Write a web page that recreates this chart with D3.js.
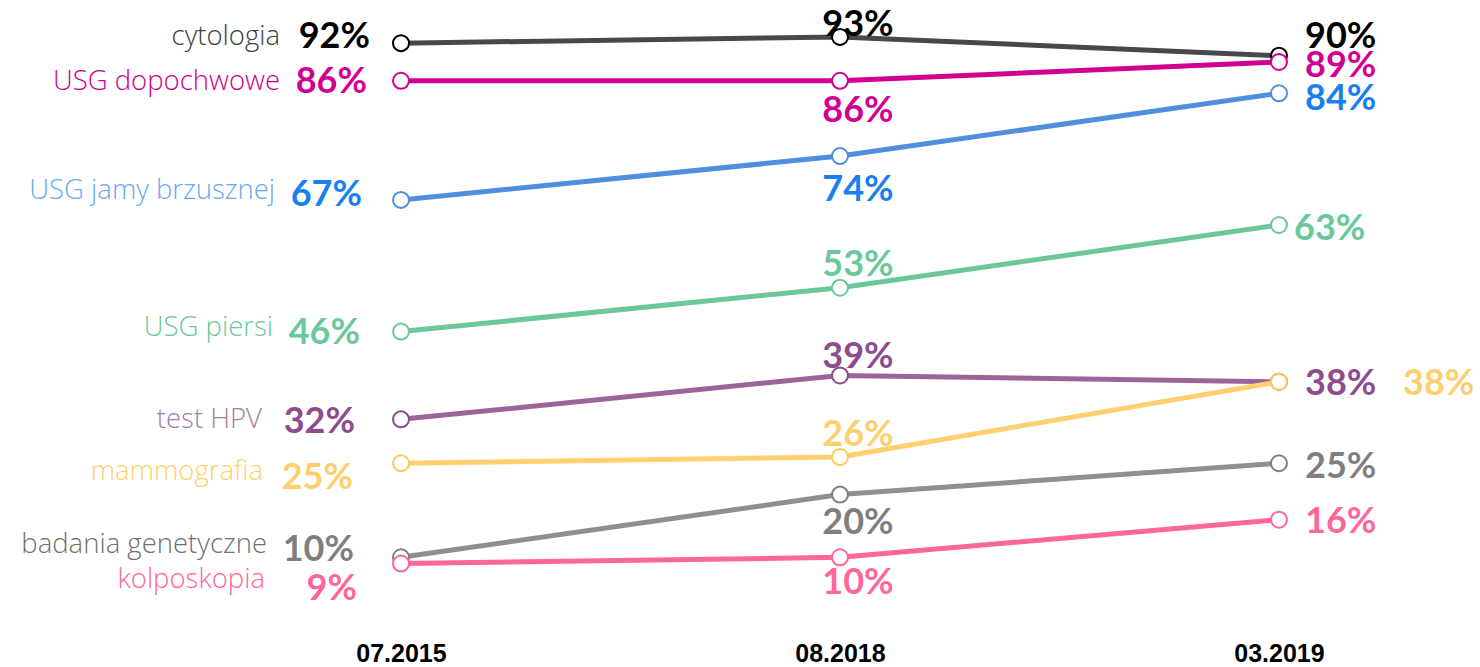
<!DOCTYPE html>
<html>
<head>
<meta charset="utf-8">
<script src="https://cdn.jsdelivr.net/npm/d3@7"></script>
<style>
  body { margin: 0; background: #fff; }
  .name { font-family: "Open Sans", sans-serif; font-weight: 300; font-size: 27.5px; }
  .val { font-family: Lato, sans-serif; font-weight: 700; font-size: 36px; }
  .tick { font-family: "Liberation Sans", Arial, sans-serif; font-weight: 700; font-size: 25px; }
</style>
</head>
<body>
<svg id="chart"></svg>
<script>
// data
const periods = ["07.2015", "08.2018", "03.2019"];
const categories = ["cytologia", "USG dopochwowe", "USG jamy brzusznej", "USG piersi",
  "test HPV", "mammografia", "badania genetyczne", "kolposkopia"];
const cytologia = [92, 93, 90];
const usgDopochwowe = [86, 86, 89];
const usgJamy = [67, 74, 84];
const usgPiersi = [46, 53, 63];
const testHpv = [32, 39, 38];
const mammografia = [25, 26, 38];
const genetyczne = [10, 20, 25];
const kolposkopia = [9, 10, 16];
const seriesValues = [cytologia, usgDopochwowe, usgJamy, usgPiersi, testHpv, mammografia, genetyczne, kolposkopia];

// colours: line, circle stroke, name text, value text
const styles = [
  { line: "#48484c", dot: "#000000", name: "#404040", val: "#000000" },
  { line: "#d20091", dot: "#d20091", name: "#d20091", val: "#d20091" },
  { line: "#4f8fdc", dot: "#4f8fdc", name: "#69a9f2", val: "#1a7ff0" },
  { line: "#6cc79a", dot: "#6cc79a", name: "#6cc79a", val: "#6cc79a" },
  { line: "#9b6599", dot: "#8e4b8e", name: "#a77aa7", val: "#8e4b8e" },
  { line: "#ffd070", dot: "#ffc95a", name: "#ffcf6e", val: "#ffcf6e" },
  { line: "#8f8f8f", dot: "#7f7f7f", name: "#707070", val: "#7f7f7f" },
  { line: "#ff6699", dot: "#ff6699", name: "#ff6699", val: "#ff6699" }
];

// label placement: name [xEnd, dy], value labels per period [x / dx, dy]
const labelLayout = [
  { name: [280, 2],  vals: [[370, 5], [0, -1], [26, -8]] },
  { name: [280, 9],  vals: [[367, 12], [0, 41], [26, 15]] },
  { name: [275, -1], vals: [[362, 6], [0, 45], [26, 17]] },
  { name: [273, 4],  vals: [[360, 12], [0, -12], [15, 15]] },
  { name: [262, 9],  vals: [[355, 14], [0, -7], [26, 13]] },
  { name: [263, 17], vals: [[353, 26], [0, -11], [124, 13]] },
  { name: [267, -4], vals: [[354, 4], [0, 39], [26, 15]] },
  { name: [265, 24], vals: [[357, 36], [0, 37], [26, 13]] }
];

const width = 1480;
const height = 667;

const x = d3.scalePoint().domain(periods).range([401, 1279]);
const y = d3.scaleLinear().domain([0, 100]).range([620, -7]);

const svg = d3.select("#chart").attr("width", width).attr("height", height);

// x axis labels only
const xAxis = d3.axisBottom(x).tickSize(0).tickPadding(0);
const axisG = svg.append("g").attr("transform", "translate(0, 644)").call(xAxis);
axisG.select(".domain").remove();
axisG.selectAll("text")
  .attr("class", "tick")
  .attr("dy", "0.71em")
  .attr("fill", "#000")
  .attr("font-size", null)
  .attr("font-family", null);

const line = d3.line()
  .x((d, i) => x(periods[i]))
  .y(d => y(d));

categories.forEach((cat, s) => {
  const vals = seriesValues[s];
  const st = styles[s];
  const g = svg.append("g");

  g.append("path")
    .datum(vals)
    .attr("d", line)
    .attr("fill", "none")
    .attr("stroke", st.line)
    .attr("stroke-width", 5);

  g.selectAll("circle")
    .data(vals)
    .enter()
    .append("circle")
    .attr("cx", (d, i) => x(periods[i]))
    .attr("cy", d => y(d))
    .attr("r", 8)
    .attr("fill", "#fff")
    .attr("stroke", st.dot)
    .attr("stroke-width", 2);
});

// labels on top
categories.forEach((cat, s) => {
  const vals = seriesValues[s];
  const st = styles[s];
  const lay = labelLayout[s];

  svg.append("text")
    .attr("class", "name")
    .attr("x", lay.name[0])
    .attr("y", y(vals[0]) + lay.name[1])
    .attr("text-anchor", "end")
    .attr("fill", st.name)
    .text(cat);

  vals.forEach((v, i) => {
    const p = lay.vals[i];
    let tx, anchor;
    if (i === 0) { tx = p[0]; anchor = "end"; }
    else if (i === 1) { tx = x(periods[i]) + 18 + p[0]; anchor = "middle"; }
    else { tx = x(periods[i]) + p[0]; anchor = "start"; }
    svg.append("text")
      .attr("class", "val")
      .attr("x", tx)
      .attr("y", y(v) + p[1])
      .attr("text-anchor", anchor)
      .attr("fill", st.val)
      .text(v + "%");
  });
});
</script>
</body>
</html>
